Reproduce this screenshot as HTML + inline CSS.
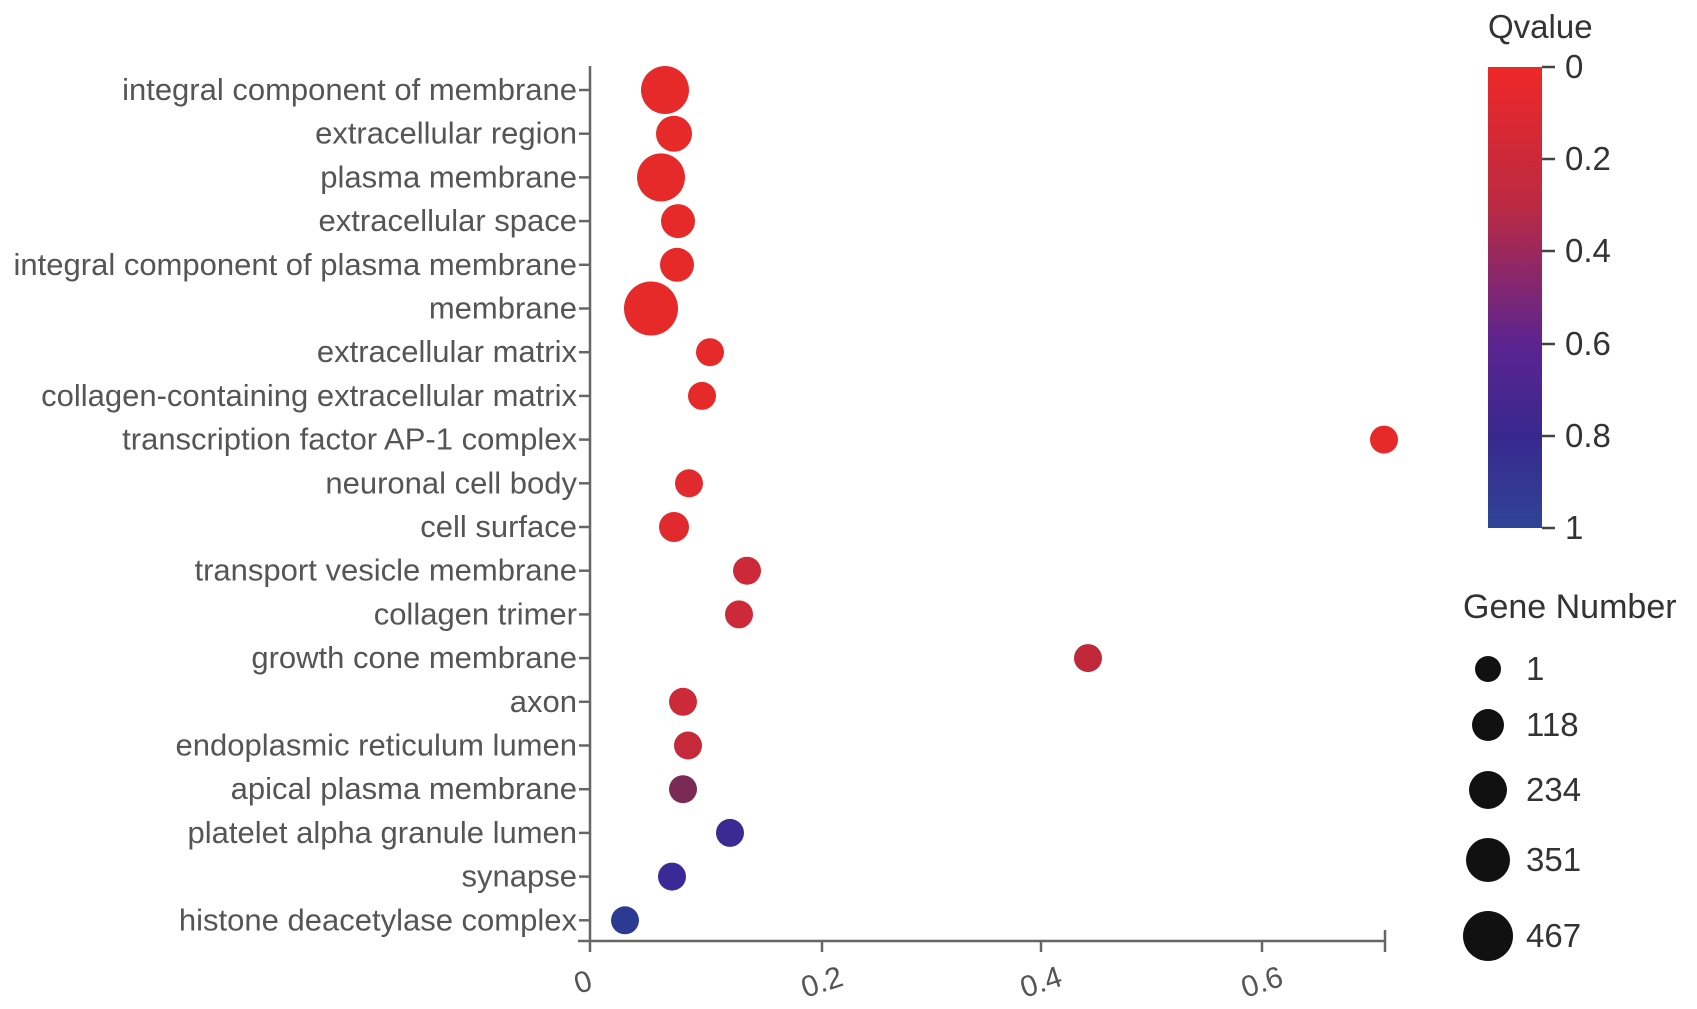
<!DOCTYPE html>
<html><head><style>body{margin:0;background:#fff}</style></head><body>
<svg width="1697" height="1004" xmlns="http://www.w3.org/2000/svg" font-family="Liberation Sans, sans-serif">
<defs><linearGradient id="g" x1="0" y1="0" x2="0" y2="1">
<stop offset="0" stop-color="#ee2828"/><stop offset="0.3" stop-color="#bb2a42"/><stop offset="0.6" stop-color="#5c2490"/><stop offset="0.8" stop-color="#38288e"/><stop offset="1" stop-color="#2f4496"/></linearGradient></defs>
<g stroke="#666" stroke-width="2.5" fill="none">
<line x1="590" y1="66" x2="590" y2="952"/><line x1="578" y1="941" x2="1385" y2="941"/>
<line x1="822" y1="941" x2="822" y2="952"/><line x1="1041" y1="941" x2="1041" y2="952"/><line x1="1262" y1="941" x2="1262" y2="952"/><line x1="1385" y1="930" x2="1385" y2="952"/>
</g>
<g font-size="30" fill="#555">
<text x="583" y="992" text-anchor="middle" transform="rotate(-18 583 982)">0</text>
<text x="822" y="992" text-anchor="middle" transform="rotate(-18 822 982)">0.2</text>
<text x="1041" y="992" text-anchor="middle" transform="rotate(-18 1041 982)">0.4</text>
<text x="1262" y="992" text-anchor="middle" transform="rotate(-18 1262 982)">0.6</text>
</g>
<g font-size="31" fill="#555" text-anchor="end" id="labels"></g>
<g id="pts"></g>
<rect x="1488" y="67" width="54" height="461" fill="url(#g)"/>
<g stroke="#444" stroke-width="2.5"><line x1="1542" y1="67" x2="1555" y2="67"/><line x1="1542" y1="159" x2="1555" y2="159"/><line x1="1542" y1="251" x2="1555" y2="251"/><line x1="1542" y1="344" x2="1555" y2="344"/><line x1="1542" y1="436" x2="1555" y2="436"/><line x1="1542" y1="528" x2="1555" y2="528"/></g>
<g font-size="33" fill="#333">
<text x="1488" y="38">Qvalue</text>
<text x="1565" y="78">0</text><text x="1565" y="170">0.2</text><text x="1565" y="262">0.4</text><text x="1565" y="355">0.6</text><text x="1565" y="447">0.8</text><text x="1565" y="539">1</text>
<text x="1463" y="618" font-size="34">Gene Number</text>
<text x="1526" y="680">1</text><text x="1526" y="736">118</text><text x="1526" y="801">234</text><text x="1526" y="871">351</text><text x="1526" y="947">467</text>
</g>
<g fill="#111"><circle cx="1488" cy="669" r="13"/><circle cx="1488" cy="725" r="16"/><circle cx="1488" cy="790" r="19"/><circle cx="1488" cy="860" r="22"/><circle cx="1488" cy="936" r="25"/></g>
<script>
var L=["integral component of membrane","extracellular region","plasma membrane","extracellular space","integral component of plasma membrane","membrane","extracellular matrix","collagen-containing extracellular matrix","transcription factor AP-1 complex","neuronal cell body","cell surface","transport vesicle membrane","collagen trimer","growth cone membrane","axon","endoplasmic reticulum lumen","apical plasma membrane","platelet alpha granule lumen","synapse","histone deacetylase complex"];
var P=[[665,24,"#e62a2a"],[674,18,"#e62a2a"],[661,24,"#e62a2a"],[678,17,"#e62a2a"],[677,17,"#e62a2a"],[651,27,"#e62a2a"],[710,14,"#e62a2a"],[702,14,"#e62a2a"],[1384,14,"#e62a2a"],[689,14,"#e02a2d"],[674,15,"#e02a2d"],[747,14,"#cc2a38"],[739,14,"#cc2a38"],[1088,14,"#c0283a"],[683,14,"#cc2a38"],[688,14,"#c42a3a"],[683,14,"#7a2a55"],[730,14,"#3b2a92"],[672,14,"#3a2a98"],[625,14,"#2c3a92"]];
var ns="http://www.w3.org/2000/svg",lg=document.getElementById("labels"),pg=document.getElementById("pts");
for(var i=0;i<20;i++){var y=90+43.7*i;
var t=document.createElementNS(ns,"text");t.setAttribute("x",577);t.setAttribute("y",y+10);t.textContent=L[i];lg.appendChild(t);
var l=document.createElementNS(ns,"line");l.setAttribute("x1",579);l.setAttribute("x2",590);l.setAttribute("y1",y);l.setAttribute("y2",y);l.setAttribute("stroke","#666");l.setAttribute("stroke-width","2.5");lg.appendChild(l);
var c=document.createElementNS(ns,"circle");c.setAttribute("cx",P[i][0]);c.setAttribute("cy",y);c.setAttribute("r",P[i][1]);c.setAttribute("fill",P[i][2]);pg.appendChild(c);}
</script>
</svg>
</body></html>
